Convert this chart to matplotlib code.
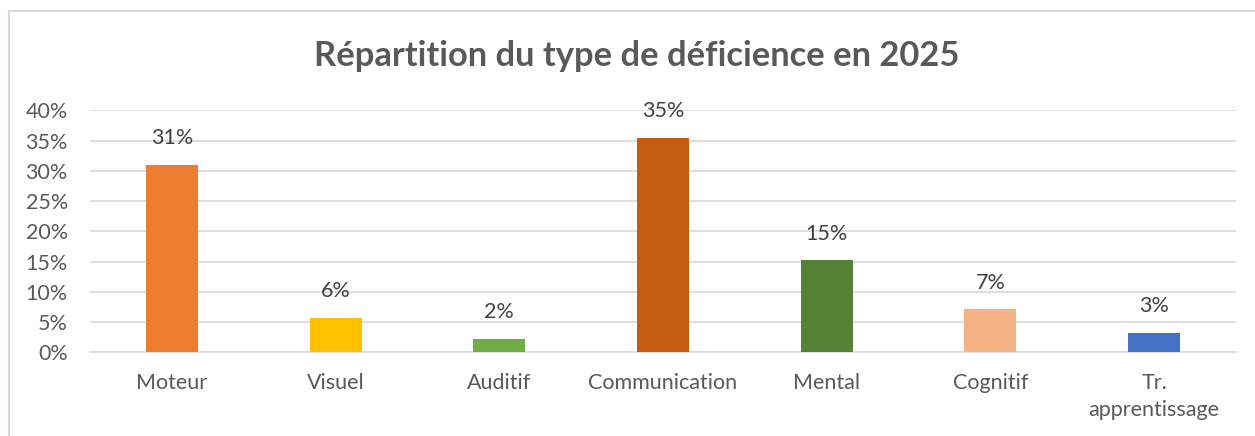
import matplotlib
matplotlib.use("Agg")
import matplotlib.pyplot as plt
from matplotlib.lines import Line2D

categories = ["Moteur", "Visuel", "Auditif", "Communication", "Mental", "Cognitif", "Tr.\napprentissage"]
values = [0.31, 0.057, 0.022, 0.354, 0.152, 0.071, 0.032]
labels = ["31%", "6%", "2%", "35%", "15%", "7%", "3%"]
colors = ["#ED7D31", "#FFC000", "#70AD47", "#C55A11", "#548235", "#F4B183", "#4472C4"]
yticks = [0, 0.05, 0.10, 0.15, 0.20, 0.25, 0.30, 0.35, 0.40]
ytick_labels = ["0%", "5%", "10%", "15%", "20%", "25%", "30%", "35%", "40%"]
title = "Répartition du type de déficience en 2025"

W, H = 1255, 436
fig = plt.figure(figsize=(W / 100, H / 100), dpi=100)
plt.rcParams['font.family'] = ['Lato', 'DejaVu Sans']

ax = fig.add_axes([90 / W, (H - 352.3) / H, 1146 / W, (352.3 - 110.3) / H])
x = list(range(len(categories)))
bars = ax.bar(x, values, width=0.317, color=colors, zorder=3)
ax.set_xlim(-0.5, len(categories) - 0.5)
ax.set_ylim(0, 0.40)
ax.set_yticks(yticks)
ax.set_yticklabels(ytick_labels)
ax.set_xticks(x)
ax.set_xticklabels(categories, linespacing=1.45)
ax.tick_params(axis='y', length=0, pad=16, labelsize=15.5, labelcolor="#595959")
ax.tick_params(axis='x', length=0, pad=15, labelsize=15.5, labelcolor="#595959")
for lab in ax.get_xticklabels():
    lab.set_verticalalignment('top')
ax.grid(axis='y', color="#d9d9d9", linewidth=1.2, zorder=0)
for s in ["top", "right", "left"]:
    ax.spines[s].set_visible(False)
ax.spines["bottom"].set_color("#d9d9d9")
ax.spines["bottom"].set_linewidth(1.2)

for b, lab in zip(bars, labels):
    ax.annotate(lab, (b.get_x() + b.get_width() / 2, b.get_height()),
                xytext=(0, 12), textcoords="offset points",
                ha="center", va="bottom", fontsize=15.5, color="#404040")

fig.text(637 / W, 1 - 56 / H, title, ha="center", va="center",
         fontsize=24.8, fontweight="bold", color="#595959")

fig.add_artist(Line2D([9 / W, 1.0], [1 - 11 / H, 1 - 11 / H], color="#d9d9d9", linewidth=1.5))
fig.add_artist(Line2D([9 / W, 9 / W], [0, 1 - 11 / H], color="#d9d9d9", linewidth=1.5))

fig.savefig("out.png", dpi=100)
